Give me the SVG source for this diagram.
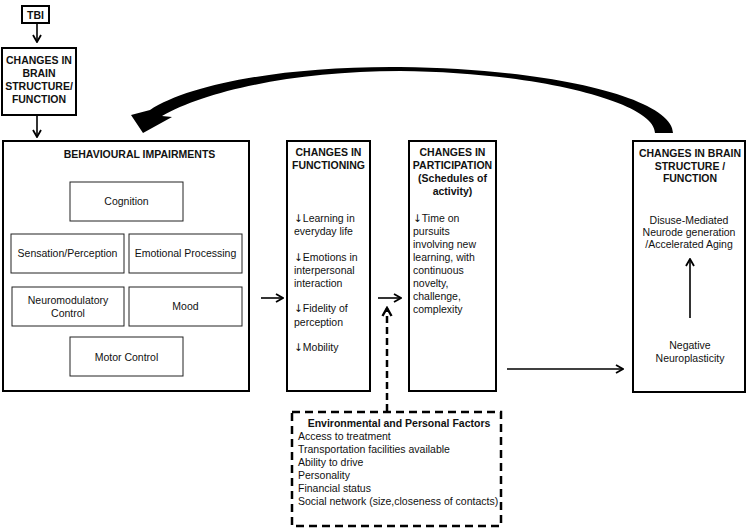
<svg xmlns="http://www.w3.org/2000/svg" width="747" height="528" viewBox="0 0 747 528">
<style>
  text { font-family: "Liberation Sans", Arial, sans-serif; font-size: 10.5px; fill: #111; }
  .b { font-weight: bold; }
  .c { text-anchor: middle; }
  .dn { font-family: "DejaVu Sans", sans-serif; font-size: 10.5px; fill: #111; }
  .main { fill: #fff; stroke: #000; stroke-width: 2; }
  .sub { fill: #fff; stroke: #222; stroke-width: 1; }
  .env { fill: none; stroke: #000; stroke-width: 2.5; stroke-dasharray: 8 5; }
  .arr { stroke: #000; stroke-width: 1.6; fill: none; }
</style>
<defs>
  <marker id="ah" viewBox="0 0 10 10" refX="9" refY="5" markerWidth="10" markerHeight="10" markerUnits="userSpaceOnUse" orient="auto">
    <path d="M2,1 L9,5 L2,9" fill="none" stroke="#000" stroke-width="1.8"/>
  </marker>
  <marker id="ahd" viewBox="0 0 12 12" refX="10" refY="6" markerWidth="12" markerHeight="12" markerUnits="userSpaceOnUse" orient="auto">
    <path d="M2,1.5 L10,6 L2,10.5" fill="none" stroke="#000" stroke-width="2.4"/>
  </marker>
</defs>
<rect width="747" height="528" fill="#fff"/>

<g id="tbi">
  <rect class="main" x="22" y="6" width="27" height="17"/>
  <text class="b c" x="35.5" y="18.5">TBI</text>
</g>
<g id="changes-brain-1">
  <rect class="main" x="2" y="48" width="74" height="67"/>
  <text class="b c" x="39" y="64">CHANGES IN</text>
  <text class="b c" x="39" y="77">BRAIN</text>
  <text class="b c" x="39" y="90">STRUCTURE/</text>
  <text class="b c" x="39" y="103">FUNCTION</text>
</g>
<g id="behavioural">
  <rect class="main" x="3" y="141" width="246" height="250"/>
  <text class="b c" x="139.5" y="158">BEHAVIOURAL IMPAIRMENTS</text>
  <g id="cognition"><rect class="sub" x="70" y="182" width="113" height="39"/><text class="c" x="126.5" y="205">Cognition</text></g>
  <g id="sensation"><rect class="sub" x="11" y="234" width="113" height="39"/><text class="c" x="67.5" y="257">Sensation/Perception</text></g>
  <g id="emotional"><rect class="sub" x="129" y="234" width="113" height="39"/><text class="c" x="185.5" y="257">Emotional Processing</text></g>
  <g id="neuromod"><rect class="sub" x="12" y="287" width="112" height="39"/><text class="c" x="68" y="304">Neuromodulatory</text><text class="c" x="68" y="317">Control</text></g>
  <g id="mood"><rect class="sub" x="129" y="287" width="113" height="39"/><text class="c" x="185.5" y="310">Mood</text></g>
  <g id="motor"><rect class="sub" x="70" y="337" width="113" height="39"/><text class="c" x="126.5" y="361">Motor Control</text></g>
</g>
<g id="functioning">
  <rect class="main" x="287" y="141" width="83" height="250"/>
  <text class="b c" x="328.5" y="156">CHANGES IN</text>
  <text class="b c" x="328.5" y="169">FUNCTIONING</text>
  <text x="294" y="222"><tspan class="dn">↓</tspan>Learning in</text>
  <text x="294" y="235">everyday life</text>
  <text x="294" y="261"><tspan class="dn">↓</tspan>Emotions in</text>
  <text x="294" y="274">interpersonal</text>
  <text x="294" y="287">interaction</text>
  <text x="294" y="312"><tspan class="dn">↓</tspan>Fidelity of</text>
  <text x="294" y="326">perception</text>
  <text x="294" y="351"><tspan class="dn">↓</tspan>Mobility</text>
</g>
<g id="participation">
  <rect class="main" x="409" y="141" width="87" height="250"/>
  <text class="b c" x="452.5" y="156">CHANGES IN</text>
  <text class="b c" x="452.5" y="169">PARTICIPATION</text>
  <text class="b c" x="452.5" y="182">(Schedules of</text>
  <text class="b c" x="452.5" y="195">activity)</text>
  <text x="413" y="222"><tspan class="dn">↓</tspan>Time on</text>
  <text x="413" y="235">pursuits</text>
  <text x="413" y="248">involving new</text>
  <text x="413" y="261">learning, with</text>
  <text x="413" y="274">continuous</text>
  <text x="413" y="287">novelty,</text>
  <text x="413" y="300">challenge,</text>
  <text x="413" y="313">complexity</text>
</g>
<g id="changes-brain-2">
  <rect class="main" x="633" y="141" width="112" height="251"/>
  <text class="b c" x="690" y="157">CHANGES IN BRAIN</text>
  <text class="b c" x="690" y="170">STRUCTURE /</text>
  <text class="b c" x="690" y="182">FUNCTION</text>
  <text class="c" x="689" y="224">Disuse-Mediated</text>
  <text class="c" x="689" y="236">Neurode generation</text>
  <text class="c" x="689" y="248">/Accelerated Aging</text>
  <line class="arr" x1="690" y1="318" x2="690" y2="259" marker-end="url(#ah)"/>
  <text class="c" x="690" y="349">Negative</text>
  <text class="c" x="690" y="362">Neuroplasticity</text>
</g>
<g id="env-factors">
  <rect class="env" x="292" y="412" width="209" height="114"/>
  <text class="b c" x="399" y="427">Environmental and Personal Factors</text>
  <text x="298" y="440">Access to treatment</text>
  <text x="298" y="453">Transportation facilities available</text>
  <text x="298" y="466">Ability to drive</text>
  <text x="298" y="479">Personality</text>
  <text x="298" y="492">Financial status</text>
  <text x="298" y="505">Social network (size,closeness of contacts)</text>
</g>
<g id="connectors">
  <line class="arr" x1="37" y1="23" x2="37" y2="42" marker-end="url(#ah)"/>
  <line class="arr" x1="37" y1="116" x2="37" y2="137" marker-end="url(#ah)"/>
  <line class="arr" x1="261" y1="298" x2="283" y2="298" marker-end="url(#ah)"/>
  <line class="arr" x1="378" y1="298" x2="401" y2="298" marker-end="url(#ah)"/>
  <line x1="387" y1="411" x2="387" y2="308" stroke="#000" stroke-width="2.5" stroke-dasharray="7 4" marker-end="url(#ahd)"/>
  <line class="arr" x1="507" y1="369" x2="623" y2="369" marker-end="url(#ah)"/>
  <path d="M673,133 C673,100 560,69 400,67 C285,66 190,84 150,110 L131,115 L143,133 L172,117 L162,116 C205,91 295,71 400,71 C535,72 655,102 655,133 Z" fill="#000"/>
</g>
</svg>
